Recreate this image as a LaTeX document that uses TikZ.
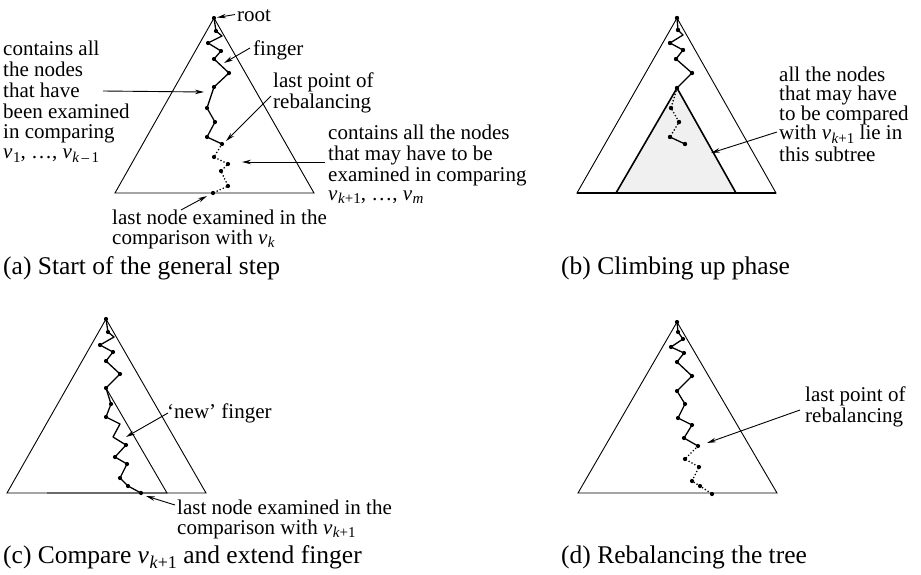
\documentclass[tikz,border=0pt]{standalone}
\usepackage{fontspec}
\setmainfont{Liberation Serif}
\usetikzlibrary{arrows.meta}
\newcommand\vsub[1]{\textit{v}\kern0.5pt\raisebox{-3.5pt}{\fontsize{15}{15}\selectfont #1}}
\newcommand\vsubc[1]{\textit{v}\kern0.5pt\raisebox{-5pt}{\fontsize{18}{18}\selectfont #1}}
\tikzset{
  tri/.style={line width=0.9pt, line join=miter},
  tribold/.style={line width=1.6pt, line join=miter, fill=black!6},
  zig/.style={line width=1.3pt, line join=round, line cap=round},
  dotseg/.style={line width=1.8pt, line cap=round, dash pattern=on 0pt off 3.3pt},
  ptr/.style={line width=0.9pt, -{Stealth[length=9pt,width=4.5pt]}},
  lbl/.style={anchor=base west, inner sep=0pt, font=\fontsize{21}{21}\selectfont},
  captxt/.style={anchor=base west, inner sep=0pt, font=\fontsize{25.5}{26}\selectfont},
}
\begin{document}
\begin{tikzpicture}[x=1pt,y=-1pt]
\useasboundingbox (0,0) rectangle (921,574);

% ================= (a) =================
\draw[tri] (214,18) -- (314,193) -- (115,193) -- cycle;
\draw[zig] plot coordinates {(214,18) (216,31) (222,36) (208,43) (221,51) (214,59) (229,73) (214,87) (207,108) (215,122) (207,137) (222,144)};
\draw[dotseg] plot coordinates {(222,144) (214,157) (228,164) (221,171) (228,186) (213,193)};
\foreach \p in {(214,18),(216,31),(208,43),(221,51),(214,59),(229,73),(214,87),(207,108),(215,122),(207,137),(222,144),(214,157),(228,164),(221,171),(228,186),(213,193)}
  \fill \p circle (2.1pt);
\coordinate (aroot) at (217,17.5);
\coordinate (afing) at (224,63);
\coordinate (aexam) at (204,92);
\coordinate (areb) at (226,141);
\coordinate (amay) at (242,162);
\coordinate (alast) at (207,196);

\node[lbl] (rootl) at (237,21) {root};
\node[lbl] (fingl) at (253,55) {finger};
\node[lbl] (al1) at (3,55) {contains all};
\node[lbl] (al2) at (3,76) {the nodes};
\node[lbl] (al3) at (3,97) {that have};
\node[lbl] (al4) at (3,118) {been examined};
\node[lbl] (al5) at (3,138) {in comparing};
\node[lbl] (al6) at (3,158.5) {\vsub{1}, \dots, \vsub{\textit{k}\,--\,1}};
\node[lbl] (rb1) at (273,87) {last point of};
\node[lbl] (rb2) at (273,108) {rebalancing};
\node[lbl] (ar1) at (328,139) {contains all the nodes};
\node[lbl] (ar2) at (328,160) {that may have to be};
\node[lbl] (ar3) at (328,181) {examined in comparing};
\node[lbl] (ar4) at (328,200) {\vsub{\textit{k}+1}, \dots, \vsub{\textit{m}}};
\node[lbl] (ln1) at (112,224) {last node examined in the};
\node[lbl] (ln2) at (112,244) {comparison with \vsub{\textit{k}}};
\node[captxt] (capa) at (3,274) {(a) Start of the general step};

\draw[ptr] (235,14.5) -- (aroot);
\draw[ptr] (250,48) -- (afing);
\draw[ptr] (103,91) -- (aexam);
\draw[ptr] (271,96) -- (areb);
\draw[ptr] (325,162) -- (amay);
\draw[ptr] (181,210) -- (alast);

% ================= (b) =================
\draw[tri] (677,18) -- (776,193) -- (577,193) -- cycle;
\draw[tribold] (677,88) -- (736,193) -- (616,193) -- cycle;
\draw[line width=1.4pt] (577,193) -- (776,193);
\draw[zig] plot coordinates {(677,18) (678,30) (683,35) (670,43) (683,50) (676,59) (692,73) (677,88)};
\draw[dotseg] plot coordinates {(677,88) (671,108) (679,122) (670,137)};
\draw[zig] (670,137) -- (685,144);
\foreach \p in {(677,18),(678,30),(670,43),(683,50),(676,59),(692,73),(677,88),(671,108),(679,122),(670,137),(685,144)}
  \fill \p circle (2.2pt);
\coordinate (bsub) at (711,153);
\node[lbl] (bl1) at (779,81) {all the nodes};
\node[lbl] (bl2) at (779,100.5) {that may have};
\node[lbl] (bl3) at (779,120) {to be compared};
\node[lbl] (bl4) at (779,139.5) {with \vsub{\textit{k}+1} lie in};
\node[lbl] (bl5) at (779,161.5) {this subtree};
\node[captxt] (capb) at (561,274) {(b) Climbing up phase};
\draw[ptr] (777,132) -- (bsub);

% ================= (c) =================
\draw[tri] (106,319) -- (206,493) -- (7,493) -- cycle;
\draw[tri] (106,388) -- (167,493) -- (47,493);
\draw[zig] plot coordinates {(106,319) (108,332) (114,337) (100,345) (113,352) (106,361) (120,374) (106,388) (111,404) (106,417) (120,424) (113,437) (126,445) (115,457) (127,464) (120,478) (128,486) (141,493)};
\foreach \p in {(106,319),(108,332),(100,345),(113,352),(106,361),(120,374),(106,388),(111,404),(106,417),(126,445),(115,457),(127,464),(120,478),(128,486),(141,493)}
  \fill \p circle (2.1pt);
\coordinate (cfing) at (126,437);
\coordinate (clast) at (146,496);
\node[lbl] (cf) at (167,418) {`new' finger};
\node[lbl] (cl1) at (177,514) {last node examined in the};
\node[lbl] (cl2) at (177,534) {comparison with \vsub{\textit{k}+1}};
\node[captxt] (capc) at (3,563) {(c) Compare \vsubc{\textit{k}+1} and extend finger};
\draw[ptr] (168,413) -- (cfing);
\draw[ptr] (175,505) -- (clast);

% ================= (d) =================
\draw[tri] (677,322) -- (777,493) -- (578,493) -- cycle;
\draw[zig] plot coordinates {(677,322) (678,332) (683,339) (671,347) (684,353) (677,362) (692,376) (677,391) (685,404) (678,418) (692,425) (684,438) (698,446)};
\draw[dotseg] plot coordinates {(698,446) (685,459) (699,467) (692,481) (700,486) (712,494)};
\foreach \p in {(677,322),(678,332),(683,339),(671,347),(684,353),(677,362),(692,376),(677,391),(685,404),(678,418),(692,425),(684,438),(698,446),(685,459),(699,467),(692,481),(700,486),(712,494)}
  \fill \p circle (2.1pt);
\coordinate (dreb) at (707,443);
\node[lbl] (dl1) at (805,401) {last point of};
\node[lbl] (dl2) at (805,422) {rebalancing};
\node[captxt] (capd) at (561,563) {(d) Rebalancing the tree};
\draw[ptr] (800,410) -- (dreb);
\end{tikzpicture}
\end{document}
